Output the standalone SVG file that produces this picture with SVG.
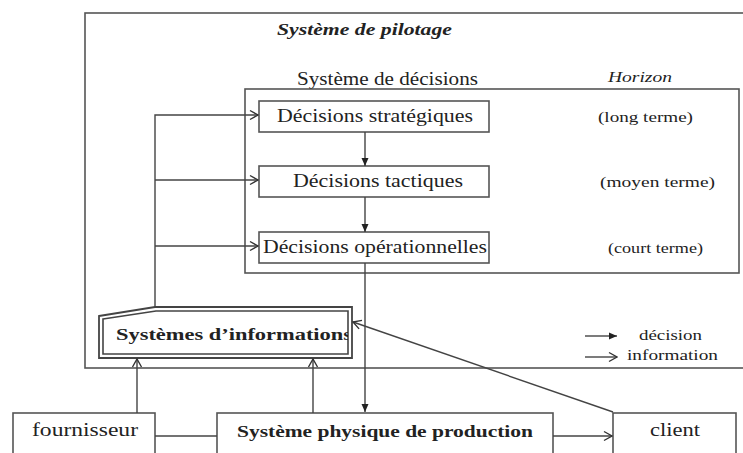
<svg xmlns="http://www.w3.org/2000/svg" width="743" height="453" viewBox="0 0 743 453">
  <style>
    .box { fill: #fff; stroke: #555; stroke-width: 1.6; }
    .frame { fill: none; stroke: #555; stroke-width: 1.6; }
    .link { fill: none; stroke: #444; stroke-width: 1.4; }
    .txt { font-family: "Liberation Serif", "Times New Roman", serif; fill: #222; }
    .b { font-weight: bold; }
    .i { font-style: italic; }
  </style>
  <defs>
    <!-- decision flow: small filled head -->
    <marker id="dec" markerUnits="userSpaceOnUse" markerWidth="10" markerHeight="10" viewBox="0 0 10 10" refX="9" refY="5" orient="auto">
      <path d="M1,1.5 L9,5 L1,8.5 Z" fill="#222"/>
    </marker>
    <!-- information flow: open chevron head -->
    <marker id="inf" markerUnits="userSpaceOnUse" markerWidth="12" markerHeight="12" viewBox="0 0 12 12" refX="11" refY="6" orient="auto">
      <path d="M3,1.5 L11,6 L3,10.5" fill="none" stroke="#333" stroke-width="1.4"/>
    </marker>
    <clipPath id="siClip">
      <rect x="103" y="311" width="245" height="43"/>
    </clipPath>
  </defs>

  <rect width="743" height="453" fill="#fff"/>

  <!-- piloting system frame (runs past the right edge) -->
  <g id="systeme-pilotage">
    <rect class="frame" x="85" y="13" width="680" height="355"/>
    <text class="txt b i" x="277" y="35" font-size="17" textLength="175" lengthAdjust="spacingAndGlyphs">Système de pilotage</text>
  </g>

  <!-- decision system frame -->
  <g id="systeme-decisions">
    <text class="txt" x="297" y="85" font-size="19" textLength="181" lengthAdjust="spacingAndGlyphs">Système de décisions</text>
    <rect class="frame" x="245" y="89" width="494" height="184"/>
  </g>

  <g id="horizon">
    <text class="txt i" x="608" y="82" font-size="14" textLength="64" lengthAdjust="spacingAndGlyphs">Horizon</text>
    <text class="txt" x="598" y="122" font-size="15" textLength="95" lengthAdjust="spacingAndGlyphs">(long terme)</text>
    <text class="txt" x="600" y="187" font-size="15" textLength="115" lengthAdjust="spacingAndGlyphs">(moyen terme)</text>
    <text class="txt" x="608" y="253" font-size="15" textLength="95" lengthAdjust="spacingAndGlyphs">(court terme)</text>
  </g>

  <g id="decisions-strategiques">
    <rect class="box" x="259" y="101" width="230" height="31"/>
    <text class="txt" x="277" y="122" font-size="19" textLength="196" lengthAdjust="spacingAndGlyphs">Décisions stratégiques</text>
  </g>
  <g id="decisions-tactiques">
    <rect class="box" x="259" y="166" width="230" height="31"/>
    <text class="txt" x="293" y="187" font-size="19" textLength="170" lengthAdjust="spacingAndGlyphs">Décisions tactiques</text>
  </g>
  <g id="decisions-operationnelles">
    <rect class="box" x="259" y="232" width="230" height="31"/>
    <text class="txt" x="263" y="253" font-size="19" textLength="224" lengthAdjust="spacingAndGlyphs">Décisions opérationnelles</text>
  </g>

  <!-- information system: double outline with cut corner -->
  <g id="systemes-informations">
    <path d="M99,316 L155,307 L352,307 L352,358 L99,358 Z" fill="#fff" stroke="#444" stroke-width="1.8"/>
    <path d="M103,319 L156,311 L348,311 L348,354 L103,354 Z" fill="none" stroke="#444" stroke-width="1.6"/>
    <g clip-path="url(#siClip)">
      <text class="txt b" x="116" y="340" font-size="17" textLength="236" lengthAdjust="spacingAndGlyphs">Systèmes d’informations</text>
    </g>
  </g>

  <!-- legend -->
  <g id="legende">
    <line class="link" x1="585" y1="336" x2="617" y2="336" marker-end="url(#dec)"/>
    <text class="txt" x="639" y="340" font-size="15" textLength="63" lengthAdjust="spacingAndGlyphs">décision</text>
    <line class="link" x1="585" y1="357" x2="617" y2="357" marker-end="url(#inf)"/>
    <text class="txt" x="627" y="360" font-size="15" textLength="91" lengthAdjust="spacingAndGlyphs">information</text>
  </g>

  <g id="fournisseur">
    <rect class="box" x="13" y="413" width="142" height="60"/>
    <text class="txt" x="32" y="436" font-size="19" textLength="106" lengthAdjust="spacingAndGlyphs">fournisseur</text>
  </g>
  <g id="systeme-physique">
    <rect class="box" x="217" y="413" width="336" height="60"/>
    <text class="txt b" x="237" y="437" font-size="17" textLength="296" lengthAdjust="spacingAndGlyphs">Système physique de production</text>
  </g>
  <g id="client">
    <rect class="box" x="613" y="413" width="123" height="60"/>
    <text class="txt" x="650" y="436" font-size="19" textLength="50" lengthAdjust="spacingAndGlyphs">client</text>
  </g>

  <g id="connecteurs">
    <!-- information feed from the information system to each decision level -->
    <polyline class="link" points="155,307 155,115 258,115" marker-end="url(#inf)"/>
    <line class="link" x1="155" y1="180" x2="258" y2="180" marker-end="url(#inf)"/>
    <line class="link" x1="155" y1="246" x2="258" y2="246" marker-end="url(#inf)"/>
    <!-- decision cascade -->
    <line class="link" x1="365" y1="132" x2="365" y2="166" marker-end="url(#dec)"/>
    <line class="link" x1="365" y1="197" x2="365" y2="232" marker-end="url(#dec)"/>
    <line class="link" x1="365" y1="263" x2="365" y2="412" marker-end="url(#dec)"/>
    <!-- information gathered from the field -->
    <line class="link" x1="137" y1="413" x2="137" y2="359" marker-end="url(#inf)"/>
    <line class="link" x1="313" y1="413" x2="313" y2="359" marker-end="url(#inf)"/>
    <line class="link" x1="613" y1="412" x2="353" y2="322" marker-end="url(#inf)"/>
    <!-- physical flows -->
    <line class="link" x1="155" y1="436" x2="217" y2="436"/>
    <line class="link" x1="553" y1="436" x2="612" y2="436" marker-end="url(#inf)"/>
  </g>
</svg>
